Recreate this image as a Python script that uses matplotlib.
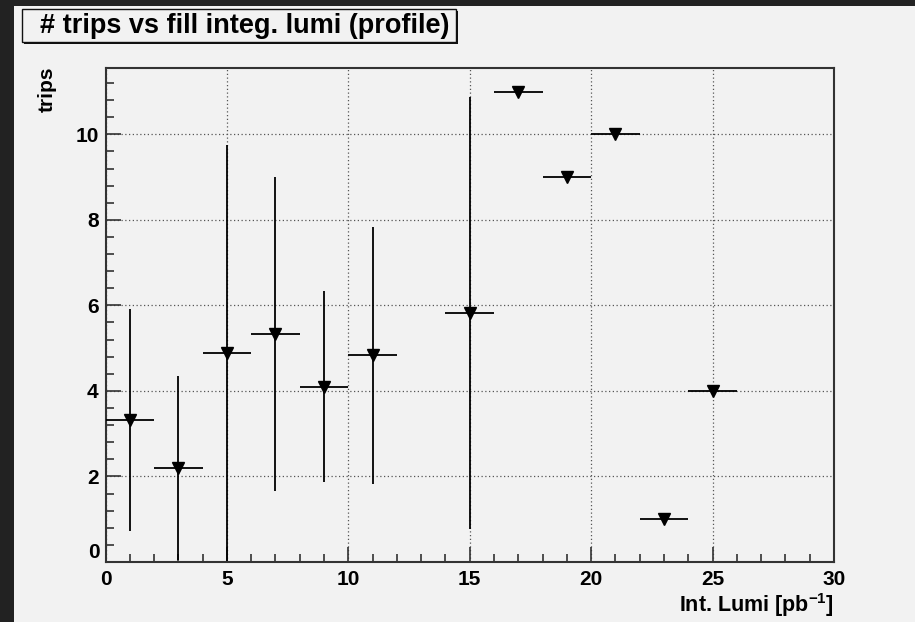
import matplotlib
matplotlib.use("Agg")
import matplotlib.pyplot as plt
from matplotlib.patches import Rectangle
from matplotlib.ticker import MultipleLocator, FuncFormatter
import numpy as np

# Data (profile histogram, bins of width 2)
bin_centers = [1, 3, 5, 7, 9, 11, 15, 17, 19, 21, 23, 25]
bin_half_width = [1, 1, 1, 1, 1, 1, 1, 1, 1, 1, 1, 1]
mean_trips = [3.32, 2.20, 4.88, 5.33, 4.10, 4.83, 5.82, 11.0, 9.0, 10.0, 1.0, 4.0]
err_trips = [2.60, 2.15, 4.86, 3.67, 2.23, 3.00, 5.05, 0.0, 0.0, 0.0, 0.0, 0.0]

title_text = "# trips vs fill integ. lumi (profile)"
xlabel_text = r"Int. Lumi [pb$^{\mathbf{-1}}$]"
ylabel_text = "trips"

plt.rcParams['font.family'] = ['Liberation Sans', 'DejaVu Sans']
plt.rcParams['mathtext.fontset'] = 'custom'
plt.rcParams['mathtext.rm'] = 'Liberation Sans:bold'
plt.rcParams['mathtext.bf'] = 'Liberation Sans:bold'

W, H = 915, 622
fig = plt.figure(figsize=(W / 100, H / 100), dpi=100)
fig.patch.set_facecolor('#222222')

# light canvas panel
panel = Rectangle((14 / W, 0), 1 - 14 / W, 1 - 6 / H, transform=fig.transFigure,
                  facecolor='#f2f2f2', edgecolor='none', zorder=-10)
fig.patches.append(panel)

ax = fig.add_axes([105.5 / W, 1 - 562 / H, (834 - 105.5) / W, (562 - 68) / H])
ax.set_zorder(1)
ax.set_facecolor('#f2f2f2')

x = np.array(bin_centers, dtype=float)
y = np.array(mean_trips, dtype=float)
e = np.array(err_trips, dtype=float)
lower = np.minimum(e, y)  # clip at 0
ax.errorbar(x, y, xerr=bin_half_width, yerr=[lower, e], fmt='none',
            ecolor='black', elinewidth=1.3, capsize=0, zorder=3)
ax.plot(x, y, linestyle='none', marker='v', markersize=9, color='black', zorder=4)

ax.set_xlim(0, 30)
ax.set_ylim(0, 11.55)
ax.xaxis.set_major_locator(MultipleLocator(5))
ax.xaxis.set_minor_locator(MultipleLocator(1))
ax.yaxis.set_major_locator(MultipleLocator(2))
ax.yaxis.set_minor_locator(MultipleLocator(0.4))
# y "0" label is drawn separately, raised as in ROOT
ax.yaxis.set_major_formatter(FuncFormatter(lambda v, p: '' if abs(v) < 1e-9 else f'{v:g}'))
ax.tick_params(which='both', direction='in', top=False, right=False,
               color='#333333', width=1.2)
ax.tick_params(which='major', length=11, labelsize=15)
ax.tick_params(axis='x', which='major', pad=6)
ax.tick_params(axis='y', which='major', pad=5)
ax.tick_params(which='minor', length=6)
for lab in ax.get_xticklabels() + ax.get_yticklabels():
    lab.set_fontweight('bold')
ax.annotate('0', xy=(0, 0), xycoords='axes fraction', xytext=(-4, 6.5),
            textcoords='offset points', ha='right', va='center',
            fontsize=15, fontweight='bold')
ax.grid(True, which='major', linestyle=(0, (1, 2)), color='#555555', linewidth=0.9)
for sp in ax.spines.values():
    sp.set_linewidth(1.5)
    sp.set_color('#333333')

# title box with shadow
shadow = Rectangle((24 / W, 1 - 44 / H), (456 - 22) / W, (42 - 9) / H,
                   transform=fig.transFigure, facecolor='#111111', edgecolor='none', zorder=5)
box = Rectangle((22 / W, 1 - 42 / H), (456 - 22) / W, (42 - 9) / H,
                transform=fig.transFigure, facecolor='#f2f2f2', edgecolor='#111111',
                linewidth=1.0, zorder=6)
fig.patches.extend([shadow, box])
fig.text(245 / W, 1 - 26 / H, title_text, ha='center', va='center',
         fontsize=19.5, fontweight='bold', zorder=7)

fig.text(47 / W, 1 - 66 / H, ylabel_text, rotation=90, ha='center', va='top',
         fontsize=15, fontweight='bold')
fig.text(834 / W, 1 - 605 / H, xlabel_text, ha='right', va='center',
         fontsize=15.5, fontweight='bold')

fig.savefig('out.png', dpi=100, facecolor=fig.get_facecolor())
